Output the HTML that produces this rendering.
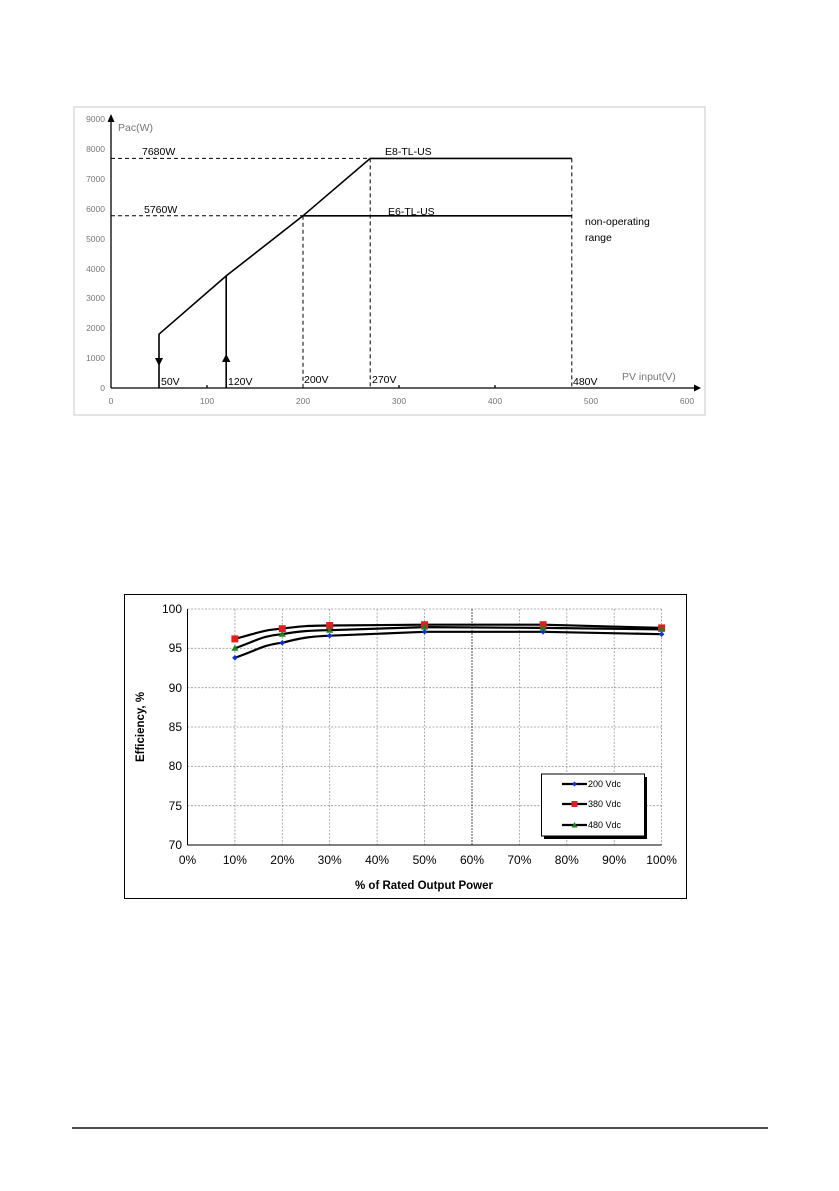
<!DOCTYPE html>
<html><head><meta charset="utf-8"><style>
html,body{margin:0;padding:0;background:#fff;}
svg{display:block;}
text{font-family:"Liberation Sans",Arial,sans-serif;}
</style></head><body>
<svg width="839" height="1191" viewBox="0 0 839 1191" xmlns="http://www.w3.org/2000/svg">
<!-- Chart 1 -->
<rect x="74" y="107" width="631" height="308" fill="#fff" stroke="#c8c8c8" stroke-width="1"/>
<g font-size="8.5" fill="#777">
<text x="105" y="122" text-anchor="end">9000</text>
<text x="105" y="152" text-anchor="end">8000</text>
<text x="105" y="182" text-anchor="end">7000</text>
<text x="105" y="212" text-anchor="end">6000</text>
<text x="105" y="242" text-anchor="end">5000</text>
<text x="105" y="272" text-anchor="end">4000</text>
<text x="105" y="301" text-anchor="end">3000</text>
<text x="105" y="331" text-anchor="end">2000</text>
<text x="105" y="361" text-anchor="end">1000</text>
<text x="105" y="391" text-anchor="end">0</text>
<text x="111" y="404" text-anchor="middle">0</text>
<text x="207" y="404" text-anchor="middle">100</text>
<text x="303" y="404" text-anchor="middle">200</text>
<text x="399" y="404" text-anchor="middle">300</text>
<text x="495" y="404" text-anchor="middle">400</text>
<text x="591" y="404" text-anchor="middle">500</text>
<text x="687" y="404" text-anchor="middle">600</text>
</g>
<g stroke="#000" stroke-width="1.3" fill="none">
<line x1="111" y1="388" x2="694" y2="388"/>
<line x1="111" y1="388" x2="111" y2="122"/>
<line x1="207" y1="388" x2="207" y2="385"/><line x1="399" y1="388" x2="399" y2="385"/><line x1="495" y1="388" x2="495" y2="385"/>
<polyline points="159,388 159,334.2 226.2,275.9 303,215.8 370.2,158.4 571.8,158.4" stroke-width="1.6"/>
<line x1="303" y1="215.8" x2="571.8" y2="215.8" stroke-width="1.6"/>
<line x1="226.2" y1="388" x2="226.2" y2="275.9" stroke-width="1.6"/>
</g>
<polygon points="694,384.5 701,388 694,391.5" fill="#000"/>
<polygon points="107.5,122 111,114 114.5,122" fill="#000"/>
<polygon points="155,358 163,358 159,366" fill="#000"/>
<polygon points="222,362 230.4,362 226.2,354" fill="#000"/>
<g stroke="#000" stroke-width="1" stroke-dasharray="4,3" fill="none">
<line x1="111" y1="158.4" x2="370" y2="158.4"/>
<line x1="111" y1="215.8" x2="303" y2="215.8"/>
<line x1="303" y1="215.8" x2="303" y2="388"/>
<line x1="370.2" y1="158.4" x2="370.2" y2="388"/>
<line x1="571.8" y1="158.4" x2="571.8" y2="388"/>
</g>
<g font-size="10.5" fill="#000">
<text x="118" y="131" fill="#777">Pac(W)</text>
<text x="142" y="155">7680W</text>
<text x="385" y="155">E8-TL-US</text>
<text x="144" y="213">5760W</text>
<text x="388" y="215">E6-TL-US</text>
<text x="585" y="225">non-operating</text>
<text x="585" y="241">range</text>
<text x="161" y="385">50V</text>
<text x="228" y="385">120V</text>
<text x="304" y="383">200V</text>
<text x="372" y="383">270V</text>
<text x="573" y="385">480V</text>
<text x="622" y="380" fill="#777">PV input(V)</text>
</g>

<!-- Chart 2 -->
<rect x="124.5" y="594.5" width="562" height="304" fill="#fff" stroke="#000" stroke-width="1"/>
<g stroke="#999" stroke-width="0.8" stroke-dasharray="2,1.5" fill="none">
<line x1="187.5" y1="609" x2="661.6" y2="609"/>
<line x1="187.5" y1="648.3" x2="661.6" y2="648.3"/>
<line x1="187.5" y1="687.7" x2="661.6" y2="687.7"/>
<line x1="187.5" y1="727" x2="661.6" y2="727"/>
<line x1="187.5" y1="766.3" x2="661.6" y2="766.3"/>
<line x1="187.5" y1="805.7" x2="661.6" y2="805.7"/>
<line x1="234.9" y1="609" x2="234.9" y2="845"/>
<line x1="282.3" y1="609" x2="282.3" y2="845"/>
<line x1="329.7" y1="609" x2="329.7" y2="845"/>
<line x1="377.1" y1="609" x2="377.1" y2="845"/>
<line x1="424.6" y1="609" x2="424.6" y2="845"/>
<line x1="519.4" y1="609" x2="519.4" y2="845"/>
<line x1="566.8" y1="609" x2="566.8" y2="845"/>
<line x1="614.2" y1="609" x2="614.2" y2="845"/>
<line x1="661.6" y1="609" x2="661.6" y2="845"/>
</g>
<line x1="472" y1="609" x2="472" y2="845" stroke="#222" stroke-width="0.8" stroke-dasharray="2,1"/>
<g stroke="#000" stroke-width="1" fill="none">
<line x1="187.5" y1="609" x2="187.5" y2="845"/>
<line x1="187.5" y1="845" x2="661.6" y2="845"/>
</g>
<g font-size="12" fill="#000" text-anchor="end">
<text x="182" y="613">100</text>
<text x="182" y="652">95</text>
<text x="182" y="692">90</text>
<text x="182" y="731">85</text>
<text x="182" y="770">80</text>
<text x="182" y="810">75</text>
<text x="182" y="849">70</text>
</g>
<g font-size="12" fill="#000" text-anchor="middle">
<text x="187.5" y="864">0%</text><text x="234.9" y="864">10%</text><text x="282.3" y="864">20%</text>
<text x="329.7" y="864">30%</text><text x="377.1" y="864">40%</text><text x="424.6" y="864">50%</text>
<text x="472" y="864">60%</text><text x="519.4" y="864">70%</text><text x="566.8" y="864">80%</text>
<text x="614.2" y="864">90%</text><text x="661.6" y="864">100%</text>
</g>
<text x="424" y="889" font-size="11.5" font-weight="bold" text-anchor="middle">% of Rated Output Power</text>
<text transform="translate(144,727) rotate(-90)" font-size="11.5" font-weight="bold" text-anchor="middle">Efficiency, %</text>
<g fill="none" stroke="#000" stroke-width="2.2" stroke-linejoin="round">
<path d="M234.9,657.8 C258,650 262,645 282.3,642.8 C300,638 310,636.5 329.7,635.7 L424.6,631.8 L543.1,631.8 L661.6,634.2"/>
<path d="M234.9,638.9 C258,633 262,630 282.3,628.7 C300,626 310,625.7 329.7,625.5 L424.6,624.7 L543.1,624.7 L661.6,627.9"/>
<path d="M234.9,648.3 C258,640 262,636 282.3,634.2 C300,631 310,630.5 329.7,630.2 L424.6,627.1 L543.1,627.9 L661.6,629.4"/>
</g>
<g fill="#1030e0">
<polygon points="234.9,655 237.7,657.8 234.9,660.6 232.1,657.8"/><polygon points="282.3,640 285.1,642.8 282.3,645.6 279.5,642.8"/>
<polygon points="329.7,632.9 332.5,635.7 329.7,638.5 326.9,635.7"/><polygon points="424.6,629 427.4,631.8 424.6,634.6 421.8,631.8"/>
<polygon points="543.1,629 545.9,631.8 543.1,634.6 540.3,631.8"/><polygon points="661.6,631.4 664.4,634.2 661.6,637 658.8,634.2"/>
</g>
<g fill="#e02020">
<rect x="231.4" y="635.4" width="7" height="7"/><rect x="278.8" y="625.2" width="7" height="7"/><rect x="326.2" y="622" width="7" height="7"/>
<rect x="421.1" y="621.2" width="7" height="7"/><rect x="539.6" y="621.2" width="7" height="7"/><rect x="658.1" y="624.4" width="7" height="7"/>
</g>
<g fill="#208020">
<polygon points="234.9,644.8 238.4,650.8 231.4,650.8"/><polygon points="282.3,630.7 285.8,636.7 278.8,636.7"/>
<polygon points="329.7,626.7 333.2,632.7 326.2,632.7"/><polygon points="424.6,623.6 428.1,629.6 421.1,629.6"/>
<polygon points="543.1,624.4 546.6,630.4 539.6,630.4"/><polygon points="661.6,625.9 665.1,631.9 658.1,631.9"/>
</g>
<!-- legend -->
<rect x="544" y="777" width="103" height="62" fill="#000"/>
<rect x="541.5" y="774" width="103" height="62" fill="#fff" stroke="#000" stroke-width="1"/>
<g stroke="#000" stroke-width="2.2">
<line x1="562" y1="784" x2="587" y2="784"/><line x1="562" y1="804" x2="587" y2="804"/><line x1="562" y1="825" x2="587" y2="825"/>
</g>
<polygon points="574.5,781.5 577,784 574.5,786.5 572,784" fill="#1030e0"/>
<rect x="571.5" y="801" width="6" height="6" fill="#e02020"/>
<polygon points="574.5,822 577.5,827.5 571.5,827.5" fill="#208020"/>
<g font-size="9" fill="#000">
<text x="588" y="787">200 Vdc</text><text x="588" y="807">380 Vdc</text><text x="588" y="828">480 Vdc</text>
</g>
<!-- footer line -->
<line x1="72" y1="1128" x2="768" y2="1128" stroke="#111" stroke-width="1.4"/>
</svg>
</body></html>
